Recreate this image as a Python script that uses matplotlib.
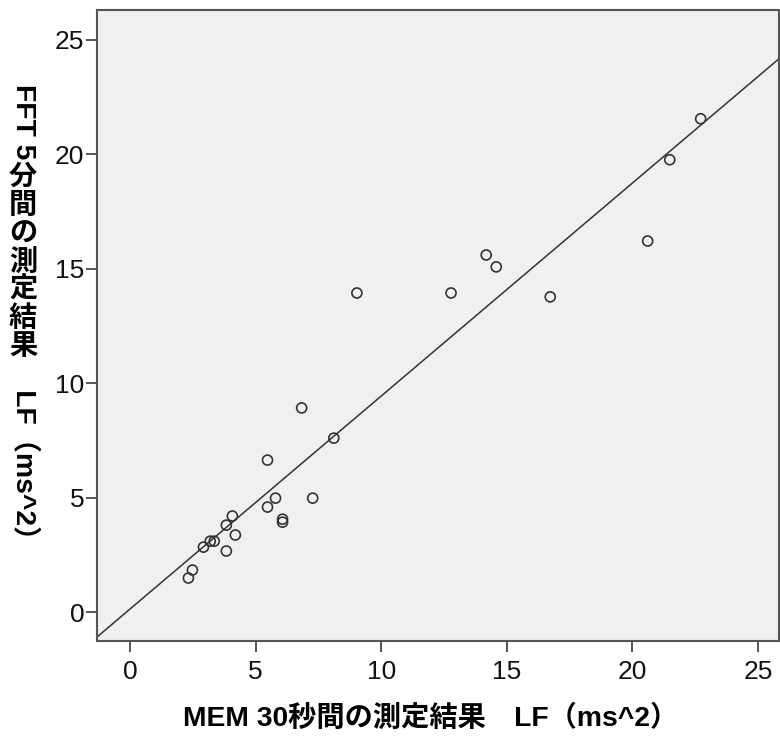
import matplotlib
matplotlib.use("Agg")
import matplotlib.pyplot as plt
import numpy as np

# Data
mem_30s_lf = [2.32, 2.48, 2.92, 3.19, 3.35, 3.83, 3.83, 4.07, 4.19, 5.47, 5.47,
              5.79, 6.07, 6.07, 6.83, 7.27, 8.11, 9.03, 12.78, 14.18, 14.58,
              16.73, 20.61, 21.49, 22.72]
fft_5min_lf = [1.49, 1.84, 2.84, 3.10, 3.10, 2.67, 3.80, 4.20, 3.37, 4.59, 6.64,
               4.98, 4.06, 3.93, 8.92, 4.98, 7.60, 13.94, 13.94, 15.60, 15.08,
               13.77, 16.21, 19.76, 21.55]
x_ticks = [0, 5, 10, 15, 20, 25]
y_ticks = [0, 5, 10, 15, 20, 25]

xlabel_text = "MEM 30秒間の測定結果　LF（ms^2）"
ylabel_pieces = [("FFT 5", 270), ("分", 0), ("間", 0), ("の", 0), ("測", 0),
                 ("定", 0), ("結", 0), ("果", 0), ("　LF（ms^2）", 270)]

W, H = 780, 740
fig = plt.figure(figsize=(W / 100, H / 100), dpi=100)
fig.patch.set_facecolor("white")
ax = fig.add_axes([97 / W, (H - 641) / H, (779 - 97) / W, (641 - 10) / H])
ax.set_facecolor("#f0f0f0")

xmin, xmax = -1.32, 25.84
ymin, ymax = -1.26, 26.3
ax.set_xlim(xmin, xmax)
ax.set_ylim(ymin, ymax)

x = np.array(mem_30s_lf)
y = np.array(fft_5min_lf)
slope, intercept = np.polyfit(x, y, 1)
xl = np.array([xmin, xmax])
ax.plot(xl, intercept + slope * xl, color="#333333", lw=1.1, zorder=2)

ax.scatter(x, y, s=52, facecolors="none", edgecolors="#333333",
           linewidths=1.2, zorder=3)

for sp in ax.spines.values():
    sp.set_color("#555555")
    sp.set_linewidth(1.5)

tick_font = ["Liberation Sans", "DejaVu Sans"]
ax.set_xticks(x_ticks)
ax.set_yticks(y_ticks)
ax.tick_params(direction="out", length=8, width=1.4, color="#555555",
               labelsize=19, labelcolor="#111111")
ax.tick_params(axis="y", pad=1)
ax.tick_params(axis="x", pad=6)
for lab in ax.get_xticklabels() + ax.get_yticklabels():
    lab.set_family(tick_font)

label_font = ["Liberation Sans", "Noto Sans CJK JP"]
fs = 20.3
fig.text(431 / W, 1 - 718 / H, xlabel_text, ha="center", va="center",
         fontsize=fs, fontweight="bold", family=label_font)

# Vertical y-axis title: CJK upright, Latin runs rotated
fig.canvas.draw()
renderer = fig.canvas.get_renderer()
cjk_pitch = fs * 100 / 72
texts = []
heights = []
for i, (s, rot) in enumerate(ylabel_pieces):
    t = fig.text(0, 0, s, rotation=rot, ha="center", va="center",
                 fontsize=fs, fontweight="bold", family=label_font)
    texts.append(t)
    if rot == 0:
        heights.append(cjk_pitch)
    else:
        h = t.get_window_extent(renderer=renderer).height
        heights.append(h + (4 if i == 0 else 0))
total = sum(heights)
center_y = 319
cur = center_y - total / 2
xc = 23
for i, (t, h) in enumerate(zip(texts, heights)):
    hh = h - 4 if i == 0 else h
    yc = cur + hh / 2
    t.set_position((xc / W, 1 - yc / H))
    cur += h

fig.savefig("out.png", dpi=100, facecolor="white")
